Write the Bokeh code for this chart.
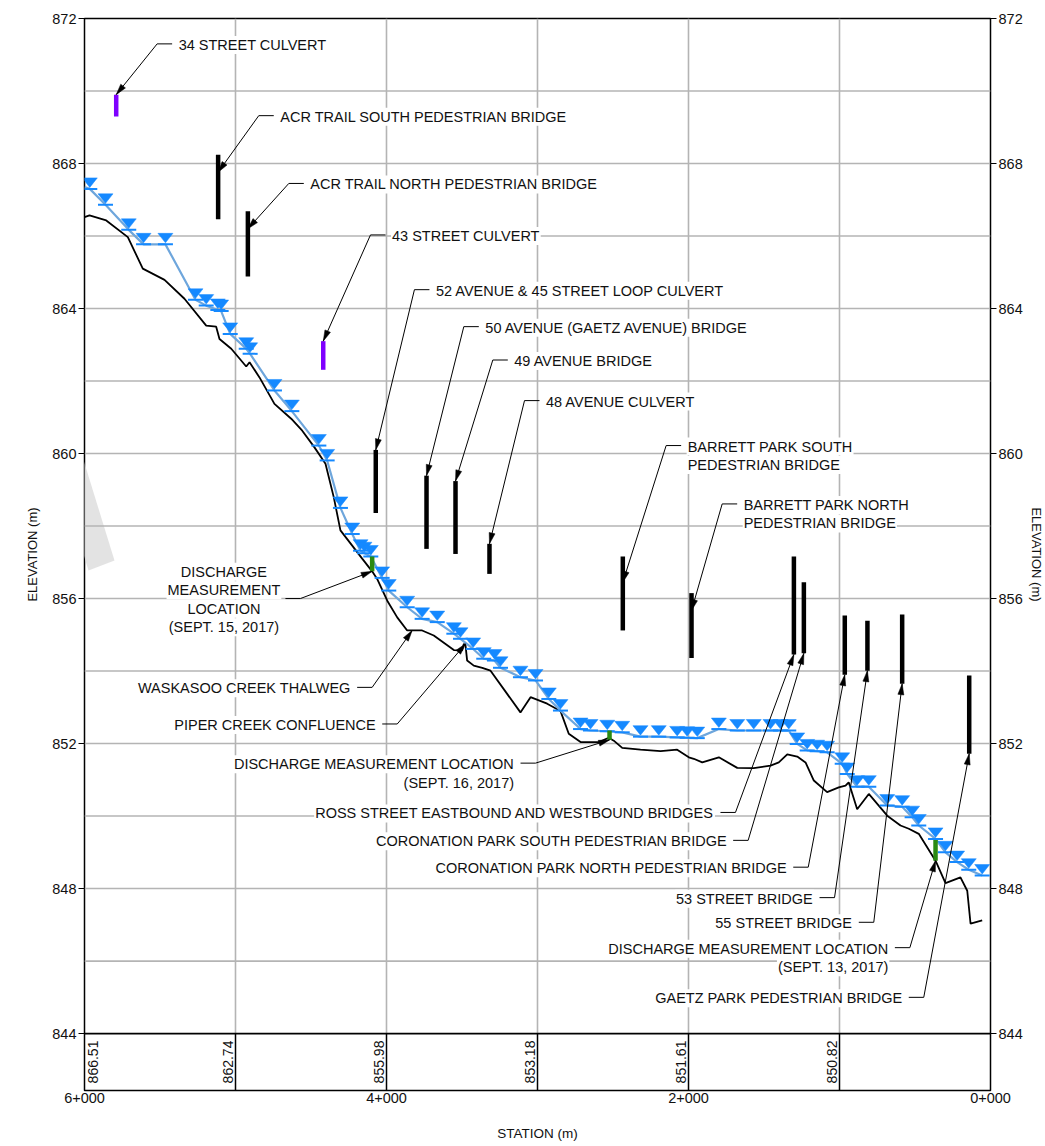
import math
from bokeh.plotting import figure
from bokeh.models import Range1d, LinearAxis, FixedTicker, Label, PolyAnnotation
from bokeh.embed import file_html
from bokeh.resources import INLINE

# ---------------- data ----------------
thalweg_station = [6000, 5967, 5856, 5713, 5614, 5470, 5338, 5194, 5128, 5106,
                   5028, 4929, 4907, 4841, 4742, 4631, 4558, 4477, 4404, 4349,
                   4305, 4227, 4161, 4095, 4062, 3995, 3929, 3863, 3764, 3687,
                   3554, 3499, 3488, 3477, 3466, 3422, 3366, 3311, 3201, 3113,
                   3046, 2936, 2848, 2793, 2715, 2594, 2528, 2495, 2439, 2318,
                   2185, 2075, 1998, 1965, 1909, 1799, 1677, 1568, 1457, 1402,
                   1346, 1280, 1225, 1170, 1082, 1005, 960, 939, 883, 806,
                   684, 596, 541, 475, 364, 298, 199, 154, 132, 55]
thalweg_elev = [866.52, 866.57, 866.43, 865.97, 865.10, 864.79, 864.27, 863.53, 863.50, 863.16,
                862.89, 862.40, 862.52, 862.10, 861.37, 860.96, 860.63, 860.17, 859.72, 858.79,
                857.88, 857.46, 857.10, 856.75, 856.54, 855.94, 855.48, 855.12, 855.12, 854.98,
                854.58, 854.57, 854.75, 854.72, 854.29, 854.15, 854.09, 854.01, 853.37, 852.86,
                853.28, 853.10, 852.90, 852.27, 852.04, 852.04, 852.16, 852.08, 851.88, 851.83,
                851.79, 851.83, 851.62, 851.58, 851.48, 851.62, 851.33, 851.32, 851.39, 851.48,
                851.70, 851.64, 851.48, 850.98, 850.66, 850.79, 850.84, 850.93, 850.19, 850.61,
                850.01, 849.74, 849.65, 849.51, 848.77, 848.15, 848.31, 847.94, 847.03, 847.12]

wse_station = [6000, 5965, 5861, 5707, 5609, 5464, 5265, 5194, 5117, 5095,
               5035, 4929, 4903, 4742, 4627, 4448, 4393, 4305, 4227, 4172,
               4146, 4104, 4029, 3985, 3863, 3764, 3664, 3554, 3510, 3426,
               3356, 3285, 3245, 3113, 3013, 2925, 2848, 2715, 2649, 2538,
               2439, 2318, 2197, 2075, 2009, 1942, 1799, 1677, 1568, 1457,
               1391, 1336, 1280, 1214, 1148, 1082, 982, 949, 883, 806,
               684, 585, 519, 475, 364, 298, 221, 144, 55]
wse_elev = [867.35, 867.30, 866.86, 866.17, 865.77, 865.77, 864.24, 864.08, 863.96, 863.93,
            863.30, 862.89, 862.75, 861.74, 861.17, 860.22, 859.81, 858.50, 857.78, 857.32,
            857.25, 857.16, 856.57, 856.22, 855.76, 855.44, 855.35, 855.03, 854.89, 854.61,
            854.34, 854.29, 854.09, 853.83, 853.74, 853.23, 852.91, 852.40, 852.36, 852.34,
            852.31, 852.19, 852.19, 852.17, 852.16, 852.15, 852.40, 852.36, 852.36, 852.36,
            852.36, 852.36, 851.99, 851.81, 851.79, 851.76, 851.44, 851.16, 850.81, 850.81,
            850.29, 850.26, 849.97, 849.74, 849.37, 849.00, 848.73, 848.52, 848.36]
wse_first_marker = 1   # the line starts at 6+000, the symbols at the first computed section

struct_name = ["34 STREET CULVERT", "ACR TRAIL SOUTH PEDESTRIAN BRIDGE", "ACR TRAIL NORTH PEDESTRIAN BRIDGE",
               "43 STREET CULVERT", "52 AVENUE & 45 STREET LOOP CULVERT", "50 AVENUE (GAETZ AVENUE) BRIDGE",
               "49 AVENUE BRIDGE", "48 AVENUE CULVERT", "BARRETT PARK SOUTH PEDESTRIAN BRIDGE",
               "BARRETT PARK NORTH PEDESTRIAN BRIDGE", "ROSS STREET EASTBOUND AND WESTBOUND BRIDGES",
               "CORONATION PARK SOUTH PEDESTRIAN BRIDGE", "CORONATION PARK NORTH PEDESTRIAN BRIDGE",
               "53 STREET BRIDGE", "55 STREET BRIDGE", "GAETZ PARK PEDESTRIAN BRIDGE"]
struct_station = [5790, 5115, 4918, 4419, 4071, 3735, 3543, 3318, 2435, 1980, 1302, 1236, 965, 815, 585, 141]
struct_top = [869.90, 868.24, 866.68, 863.10, 860.10, 859.39, 859.24, 857.51, 857.16, 856.15,
              857.16, 856.45, 855.53, 855.39, 855.56, 853.88]
struct_bottom = [869.30, 866.46, 864.88, 862.31, 858.36, 857.37, 857.23, 856.68, 855.12, 854.36,
                 854.46, 854.49, 853.90, 854.01, 853.65, 851.72]
struct_kind = ["culvert_p", "bridge", "bridge", "culvert_p", "bridge", "bridge", "bridge", "bridge",
               "bridge", "bridge", "bridge", "bridge", "bridge", "bridge", "bridge", "bridge"]

discharge_station = [4095, 2523, 364]
discharge_top = [857.16, 852.36, 849.34]
discharge_bottom = [856.75, 852.10, 848.77]

band_station = [6000, 5000, 4000, 3000, 2000, 1000]
band_elev = ["866.51", "862.74", "855.98", "853.18", "851.61", "850.82"]

x_ticks = [6000, 4000, 2000, 0]
x_tick_labels = ["6+000", "4+000", "2+000", "0+000"]
y_ticks = [844, 848, 852, 856, 860, 864, 868, 872]
grid_station = [5000, 4000, 3000, 2000, 1000]
grid_elev = [846, 848, 850, 852, 854, 856, 858, 860, 862, 864, 866, 868, 870]

# annotations: text, knee station, knee elevation, side, tip station, tip elevation, leader line index, align
ann = [
    ("34 STREET CULVERT", 5519, 871.30, "up", 5790, 869.90, 0, "left"),
    ("ACR TRAIL SOUTH PEDESTRIAN BRIDGE", 4846, 869.32, "up", 5115, 867.76, 0, "left"),
    ("ACR TRAIL NORTH PEDESTRIAN BRIDGE", 4647, 867.45, "up", 4918, 866.20, 0, "left"),
    ("43 STREET CULVERT", 4106, 866.03, "up", 4419, 863.10, 0, "left"),
    ("52 AVENUE & 45 STREET LOOP CULVERT", 3815, 864.52, "up", 4071, 860.10, 0, "left"),
    ("50 AVENUE (GAETZ AVENUE) BRIDGE", 3488, 863.50, "up", 3735, 859.39, 0, "left"),
    ("49 AVENUE BRIDGE", 3296, 862.58, "up", 3543, 859.24, 0, "left"),
    ("48 AVENUE CULVERT", 3086, 861.46, "up", 3318, 857.51, 0, "left"),
    ("BARRETT PARK SOUTH\nPEDESTRIAN BRIDGE", 2148, 860.22, "up", 2435, 856.45, 0, "left"),
    ("BARRETT PARK NORTH\nPEDESTRIAN BRIDGE", 1777, 858.61, "up", 1980, 855.67, 0, "left"),
    ("DISCHARGE\nMEASUREMENT\nLOCATION\n(SEPT. 15, 2017)", 4570, 856.00, "down", 4095, 856.75, 1.5, "center"),
    ("WASKASOO CREEK THALWEG", 4095, 853.55, "down", 3830, 855.12, 0, "right"),
    ("PIPER CREEK CONFLUENCE", 3929, 852.54, "down", 3477, 854.75, 0, "right"),
    ("DISCHARGE MEASUREMENT LOCATION\n(SEPT. 16, 2017)", 3013, 851.46, "down", 2523, 852.10, 0, "right"),
    ("ROSS STREET EASTBOUND AND WESTBOUND BRIDGES", 1689, 850.10, "down", 1302, 854.46, 0, "right"),
    ("CORONATION PARK SOUTH PEDESTRIAN BRIDGE", 1605, 849.33, "down", 1236, 854.49, 0, "right"),
    ("CORONATION PARK NORTH PEDESTRIAN BRIDGE", 1207, 848.59, "down", 965, 853.90, 0, "right"),
    ("53 STREET BRIDGE", 1033, 847.75, "down", 815, 854.01, 0, "right"),
    ("55 STREET BRIDGE", 773, 847.07, "down", 585, 853.65, 0, "right"),
    ("DISCHARGE MEASUREMENT LOCATION\n(SEPT. 13, 2017)", 534, 846.37, "down", 364, 848.77, 0, "right"),
    ("GAETZ PARK PEDESTRIAN BRIDGE", 442, 845.00, "down", 141, 851.72, 0, "right"),
]

# ---------------- layout / style ----------------
X_LEFT, X_RIGHT = 6000.0, 0.0
Y_BOT, Y_TOP = 842.43, 872.0
Y_BAND = 844.0
FW, FH = 906, 1072
BL, BT = 84, 18
KX = FW / (X_LEFT - X_RIGHT)
KY = FH / (Y_TOP - Y_BOT)

FONT = "Liberation Sans"
FS = "14.5px"
GRID = "#b4b4b4"
BLUE = "#1589ff"
WSE_LINE = "#6ea6dc"
PURPLE = "#7f00ff"
GREEN = "#2a8a12"
LEAD = 15.0      # horizontal leader length, px
GAP = 5.5        # gap leader -> text, px
LINE_H = 18.5
CENTER_HALF = 56.0  # half width of the widest line of a centred block, px
BAND_SHIFT = 7.3    # px between a band line and the centre of its rotated value


def to_px(s, e):
    return (X_LEFT - s) * KX, (e - Y_BOT) * KY


def to_data(px, py):
    return X_LEFT - px / KX, Y_BOT + py / KY


def page_to_data(x, y):
    return X_LEFT - (x - BL) / KX, Y_TOP - (y - BT) / KY


p = figure(frame_width=FW, frame_height=FH,
           x_range=Range1d(X_LEFT, X_RIGHT), y_range=Range1d(Y_BOT, Y_TOP),
           output_backend="svg", toolbar_location=None,
           min_border_left=BL, min_border_right=0, min_border_top=BT, min_border_bottom=0)
p.grid.visible = False
p.outline_line_color = "black"
p.outline_line_width = 1.5
p.background_fill_color = "white"
p.border_fill_color = "white"

# faint diagonal ribbon at the left edge of the sheet
rib = [page_to_data(x, y) for x, y in [(-10, 252), (16, 242), (114, 560), (88, 570)]]
p.add_layout(PolyAnnotation(xs=[q[0] for q in rib], ys=[q[1] for q in rib],
                            fill_color="#dcdcdc", fill_alpha=0.8, line_color=None, level="underlay"))

# x axis
xa = p.xaxis[0]
xa.ticker = FixedTicker(ticks=x_ticks)
xa.major_label_overrides = {t: l for t, l in zip(x_ticks, x_tick_labels)}
xa.major_tick_out = 0
xa.major_tick_in = 0
xa.minor_tick_out = 0
xa.minor_tick_in = 0
xa.axis_line_color = None
xa.major_label_standoff = 2
xa.major_label_text_font = FONT
xa.major_label_text_font_size = FS
xa.major_label_text_color = "#111111"
xa.axis_label = "STATION (m)"
xa.axis_label_text_font = FONT
xa.axis_label_text_font_size = "13.5px"
xa.axis_label_text_font_style = "normal"
xa.axis_label_standoff = 20
xa.axis_label_text_color = "#111111"

# y axes
ya = p.yaxis[0]
ra = LinearAxis()
p.add_layout(ra, "right")
for ax, std in ((ya, 9), (ra, 3)):
    ax.ticker = FixedTicker(ticks=y_ticks)
    ax.major_tick_out = 6
    ax.major_tick_in = 0
    ax.minor_tick_out = 0
    ax.minor_tick_in = 0
    ax.major_tick_line_color = "black"
    ax.axis_line_color = None
    ax.major_label_standoff = 2
    ax.major_label_text_font = FONT
    ax.major_label_text_font_size = FS
    ax.major_label_text_color = "#111111"
    ax.axis_label = "ELEVATION (m)"
    ax.axis_label_text_font = FONT
    ax.axis_label_text_font_size = "13px"
    ax.axis_label_text_font_style = "normal"
    ax.axis_label_text_color = "#111111"
    ax.axis_label_standoff = std

# grid
p.multi_line(xs=[[s, s] for s in grid_station], ys=[[Y_BAND, Y_TOP] for _ in grid_station],
             line_color=GRID, line_width=1.6)
p.multi_line(xs=[[X_LEFT, X_RIGHT] for _ in grid_elev], ys=[[e, e] for e in grid_elev],
             line_color=GRID, line_width=1.6)
# bottom band
p.multi_line(xs=[[s, s] for s in grid_station], ys=[[Y_BOT, Y_BAND] for _ in grid_station],
             line_color="black", line_width=1.5)
p.line([X_LEFT, X_RIGHT], [Y_BAND, Y_BAND], line_color="black", line_width=1.8)
for s, lab in zip(band_station, band_elev):
    # values sit just before each station line; the one at the sheet edge is kept inside the frame
    shift = BAND_SHIFT if s < X_LEFT else -(BAND_SHIFT + 1.0)
    p.add_layout(Label(x=s + shift / KX, y=Y_BAND - 7.0 / KY, text=lab, angle=90, angle_units="deg",
                       text_align="right", text_baseline="middle",
                       text_font=FONT, text_font_size="14px", text_color="#111111"))

# profile
p.line(thalweg_station, thalweg_elev, line_color="black", line_width=1.8)
p.line(wse_station, wse_elev, line_color=WSE_LINE, line_width=2.2)

tri_xs, tri_ys = [], []
for s, e in zip(wse_station[wse_first_marker:], wse_elev[wse_first_marker:]):
    px, py = to_px(s, e)
    pts = [(px, py + 1.5), (px - 7.5, py + 11), (px + 7.5, py + 11)]
    d = [to_data(a, b) for a, b in pts]
    tri_xs.append([q[0] for q in d])
    tri_ys.append([q[1] for q in d])
p.patches(tri_xs, tri_ys, fill_color=BLUE, line_color=BLUE, line_width=0.5)
p.scatter(wse_station[wse_first_marker:], wse_elev[wse_first_marker:], marker="dash",
          size=15, line_color=BLUE, line_width=2)

# structures
scol = [PURPLE if k == "culvert_p" else "black" for k in struct_kind]
p.segment(x0=struct_station, y0=struct_bottom, x1=struct_station, y1=struct_top,
          line_color=scol, line_width=4.5, line_cap="butt")
p.segment(x0=discharge_station, y0=discharge_bottom, x1=discharge_station, y1=discharge_top,
          line_color=GREEN, line_width=4.5, line_cap="butt")

# annotations with leaders
hx0, hy0, hx1, hy1 = [], [], [], []
head_xs, head_ys = [], []
for text, ks, ke, side, ts, te, att, align in ann:
    sign = -1.0 if side == "up" else 1.0   # station direction of the horizontal leg
    hs = ks + sign * LEAD / KX
    hx0 += [ks, ks]
    hy0 += [ke, ke]
    hx1 += [hs, ts]
    hy1 += [ke, te]
    kx, ky = to_px(ks, ke)
    tx, ty = to_px(ts, te)
    dx, dy = tx - kx, ty - ky
    n = math.hypot(dx, dy)
    ux, uy = dx / n, dy / n
    L, W = 11.0, 3.0
    bx, by = tx - L * ux, ty - L * uy
    pts = [(tx, ty), (bx - W * uy, by + W * ux), (bx + W * uy, by - W * ux)]
    d = [to_data(a, b) for a, b in pts]
    head_xs.append([q[0] for q in d])
    head_ys.append([q[1] for q in d])
    if side == "up":
        xoff = GAP
    elif align == "center":
        xoff = -(GAP + CENTER_HALF)
    else:
        xoff = -GAP
    for i, ln in enumerate(text.split("\n")):
        p.add_layout(Label(x=hs, y=ke, text=ln, x_offset=xoff,
                           y_offset=(att - i) * LINE_H - 1,
                           text_align=align, text_baseline="middle",
                           text_font=FONT, text_font_size=FS, text_color="#111111",
                           background_fill_color="white", padding=1))

p.segment(x0=hx0, y0=hy0, x1=hx1, y1=hy1, line_color="black", line_width=1)
p.patches(head_xs, head_ys, fill_color="black", line_color="black", line_width=0.5)

open("out.html", "w").write(file_html(p, INLINE))
